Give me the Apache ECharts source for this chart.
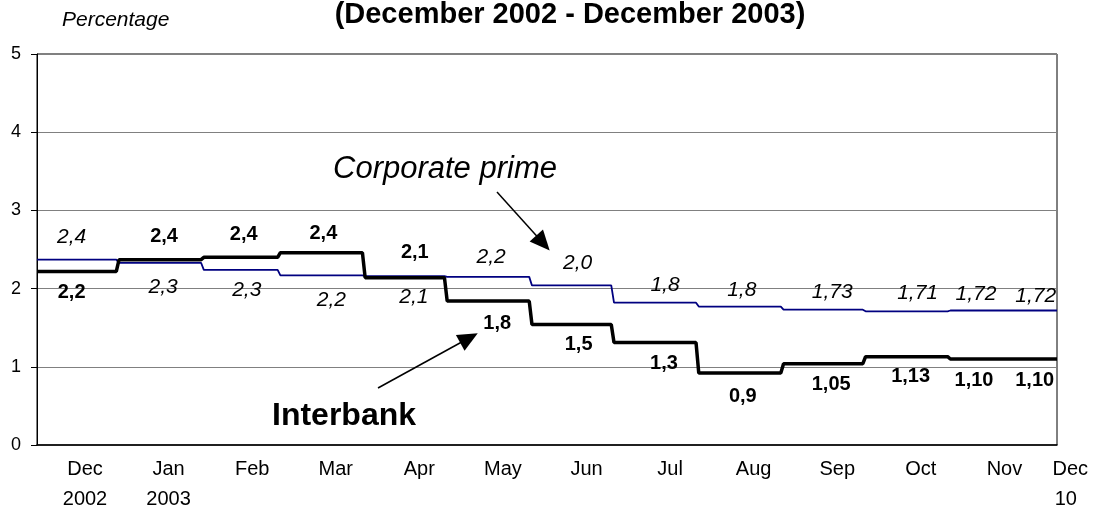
<!DOCTYPE html>
<html>
<head>
<meta charset="utf-8">
<script src="https://cdn.jsdelivr.net/npm/echarts@6/dist/echarts.min.js"></script>
<style>
  html, body { margin: 0; padding: 0; background: #fff; }
  #chart { width: 1094px; height: 508px; }
</style>
</head>
<body>
<div id="chart"></div>
<script>
// 横轴月份标签
const monthLabels = ['Dec\n2002', 'Jan\n2003', 'Feb', 'Mar', 'Apr', 'May', 'Jun', 'Jul', 'Aug', 'Sep', 'Oct', 'Nov', 'Dec\n10  '];
// 每段起始日（从 2002-12-01 起算的天数），最后一天为 12 月 10 日
const periodStart = [1, 31, 62, 90, 121, 151, 182, 212, 243, 274, 304, 335, 365];
const lastDay = 374;
// 月度利率
const interbank = [2.22, 2.37, 2.40, 2.46, 2.14, 1.84, 1.54, 1.31, 0.92, 1.04, 1.13, 1.10, 1.10];
const corporatePrime = [2.37, 2.33, 2.24, 2.17, 2.16, 2.15, 2.04, 1.82, 1.77, 1.73, 1.71, 1.72, 1.72];
// 数据标签文字
const interbankLabels = ['2,2', '2,4', '2,4', '2,4', '2,1', '1,8', '1,5', '1,3', '0,9', '1,05', '1,13', '1,10', '1,10'];
const primeLabels = ['2,4', '2,3', '2,3', '2,2', '2,1', '2,2', '2,0', '1,8', '1,8', '1,73', '1,71', '1,72', '1,72'];

// 标签的像素偏移（相对每段中点）
const interbankOffset = [[-5, 21], [4, -23], [3, -23], [2, -19], [10, -25], [9, 22], [7, 20], [9, 21], [3, 23], [8, 21], [4, 20], [-16, 22], [-10, 22]];
const primeOffset = [[-5, -23], [3, 24], [6, 20], [10, 25], [9, 21], [3, -20], [6, -22], [10, -18], [2, -16], [9, -18], [11, -18], [-14, -16], [-9, -14]];

const FONT = '"Liberation Sans", Arial, sans-serif';

function periodEnd(i) {
  return i < periodStart.length - 1 ? periodStart[i + 1] - 1 : lastDay;
}

// 阶梯折线：每段起点和终点
function stepPoints(vals) {
  const pts = [];
  vals.forEach(function (v, i) {
    pts.push([periodStart[i], v], [periodEnd(i), v]);
  });
  return pts;
}

function labelPoints(vals, texts, offsets) {
  return vals.map(function (v, i) {
    return {
      value: [(periodStart[i] + periodEnd(i)) / 2, v],
      name: texts[i],
      label: { offset: offsets[i] }
    };
  });
}

var chart = echarts.init(document.getElementById('chart'));

var option = {
  animation: false,
  grid: [
    { left: 37, right: 37, top: 54, bottom: 63, show: true, borderColor: '#000', borderWidth: 1, outerBoundsMode: 'none' },
    { left: 85, right: 6, top: 54, bottom: 63, outerBoundsMode: 'none' }
  ],
  xAxis: [
    {
      type: 'value', gridIndex: 0, min: 1, max: lastDay,
      axisLine: { show: true, onZero: false, lineStyle: { color: '#000', width: 1.5 } },
      axisTick: { show: false }, axisLabel: { show: false }, splitLine: { show: false }
    },
    {
      type: 'category', gridIndex: 1, data: monthLabels, boundaryGap: false,
      axisLine: { show: false }, axisTick: { show: false }, splitLine: { show: false },
      axisLabel: {
        color: '#000', fontFamily: FONT, fontSize: 20, lineHeight: 30, margin: 9,
        interval: 0, alignMaxLabel: 'right'
      }
    }
  ],
  yAxis: [
    {
      type: 'value', gridIndex: 0, min: 0, max: 5, interval: 1,
      axisLine: { show: true, lineStyle: { color: '#000', width: 1 } },
      axisTick: { show: true, length: 6, lineStyle: { color: '#000' } },
      axisLabel: { color: '#000', fontFamily: FONT, fontSize: 18, margin: 16 },
      splitLine: { show: true, lineStyle: { color: '#808080', width: 1 } }
    },
    { type: 'value', gridIndex: 1, show: false }
  ],
  graphic: [
    {
      type: 'text', x: 570, y: 15,
      style: { text: '(December 2002 - December 2003)', font: 'bold 29px ' + FONT, fill: '#000', align: 'center', verticalAlign: 'middle' }
    },
    {
      type: 'text', x: 62, y: 20,
      style: { text: 'Percentage', font: 'italic 21px ' + FONT, fill: '#000', align: 'left', verticalAlign: 'middle' }
    },
    {
      type: 'text', x: 333, y: 169,
      style: { text: 'Corporate prime', font: 'italic 31px ' + FONT, fill: '#000', align: 'left', verticalAlign: 'middle' }
    },
    {
      type: 'text', x: 272, y: 416,
      style: { text: 'Interbank', font: 'bold 32px ' + FONT, fill: '#000', align: 'left', verticalAlign: 'middle' }
    }
  ],
  series: [
    {
      name: 'Corporate prime', type: 'line', xAxisIndex: 0, yAxisIndex: 0,
      data: stepPoints(corporatePrime), showSymbol: false, symbol: 'none',
      lineStyle: { color: '#000080', width: 1.8 }, z: 2,
      markLine: {
        silent: true, symbol: ['none', 'triangle'], symbolSize: [18, 20],
        label: { show: false },
        lineStyle: { color: '#000', width: 1.5, type: 'solid' },
        data: [
          [{ x: 497, y: 192 }, { x: 543, y: 243 }],
          [{ x: 378, y: 388 }, { x: 469, y: 338 }]
        ]
      }
    },
    {
      name: 'Interbank', type: 'line', xAxisIndex: 0, yAxisIndex: 0,
      data: stepPoints(interbank), showSymbol: false, symbol: 'none',
      lineStyle: { color: '#000', width: 3.5 }, z: 3
    },
    {
      name: 'prime labels', type: 'scatter', xAxisIndex: 0, yAxisIndex: 0,
      data: labelPoints(corporatePrime, primeLabels, primeOffset),
      symbolSize: 0, silent: true, z: 5, itemStyle: { opacity: 1 },
      label: {
        show: true, position: 'inside', formatter: '{b}', opacity: 1,
        color: '#000', fontFamily: FONT, fontSize: 21, fontStyle: 'italic'
      }
    },
    {
      name: 'interbank labels', type: 'scatter', xAxisIndex: 0, yAxisIndex: 0,
      data: labelPoints(interbank, interbankLabels, interbankOffset),
      symbolSize: 0, silent: true, z: 5, itemStyle: { opacity: 1 },
      label: {
        show: true, position: 'inside', formatter: '{b}', opacity: 1,
        color: '#000', fontFamily: FONT, fontSize: 20, fontWeight: 'bold'
      }
    }
  ]
};

chart.setOption(option);

window.addEventListener('resize', function () {
  chart.resize();
});
</script>
</body>
</html>
